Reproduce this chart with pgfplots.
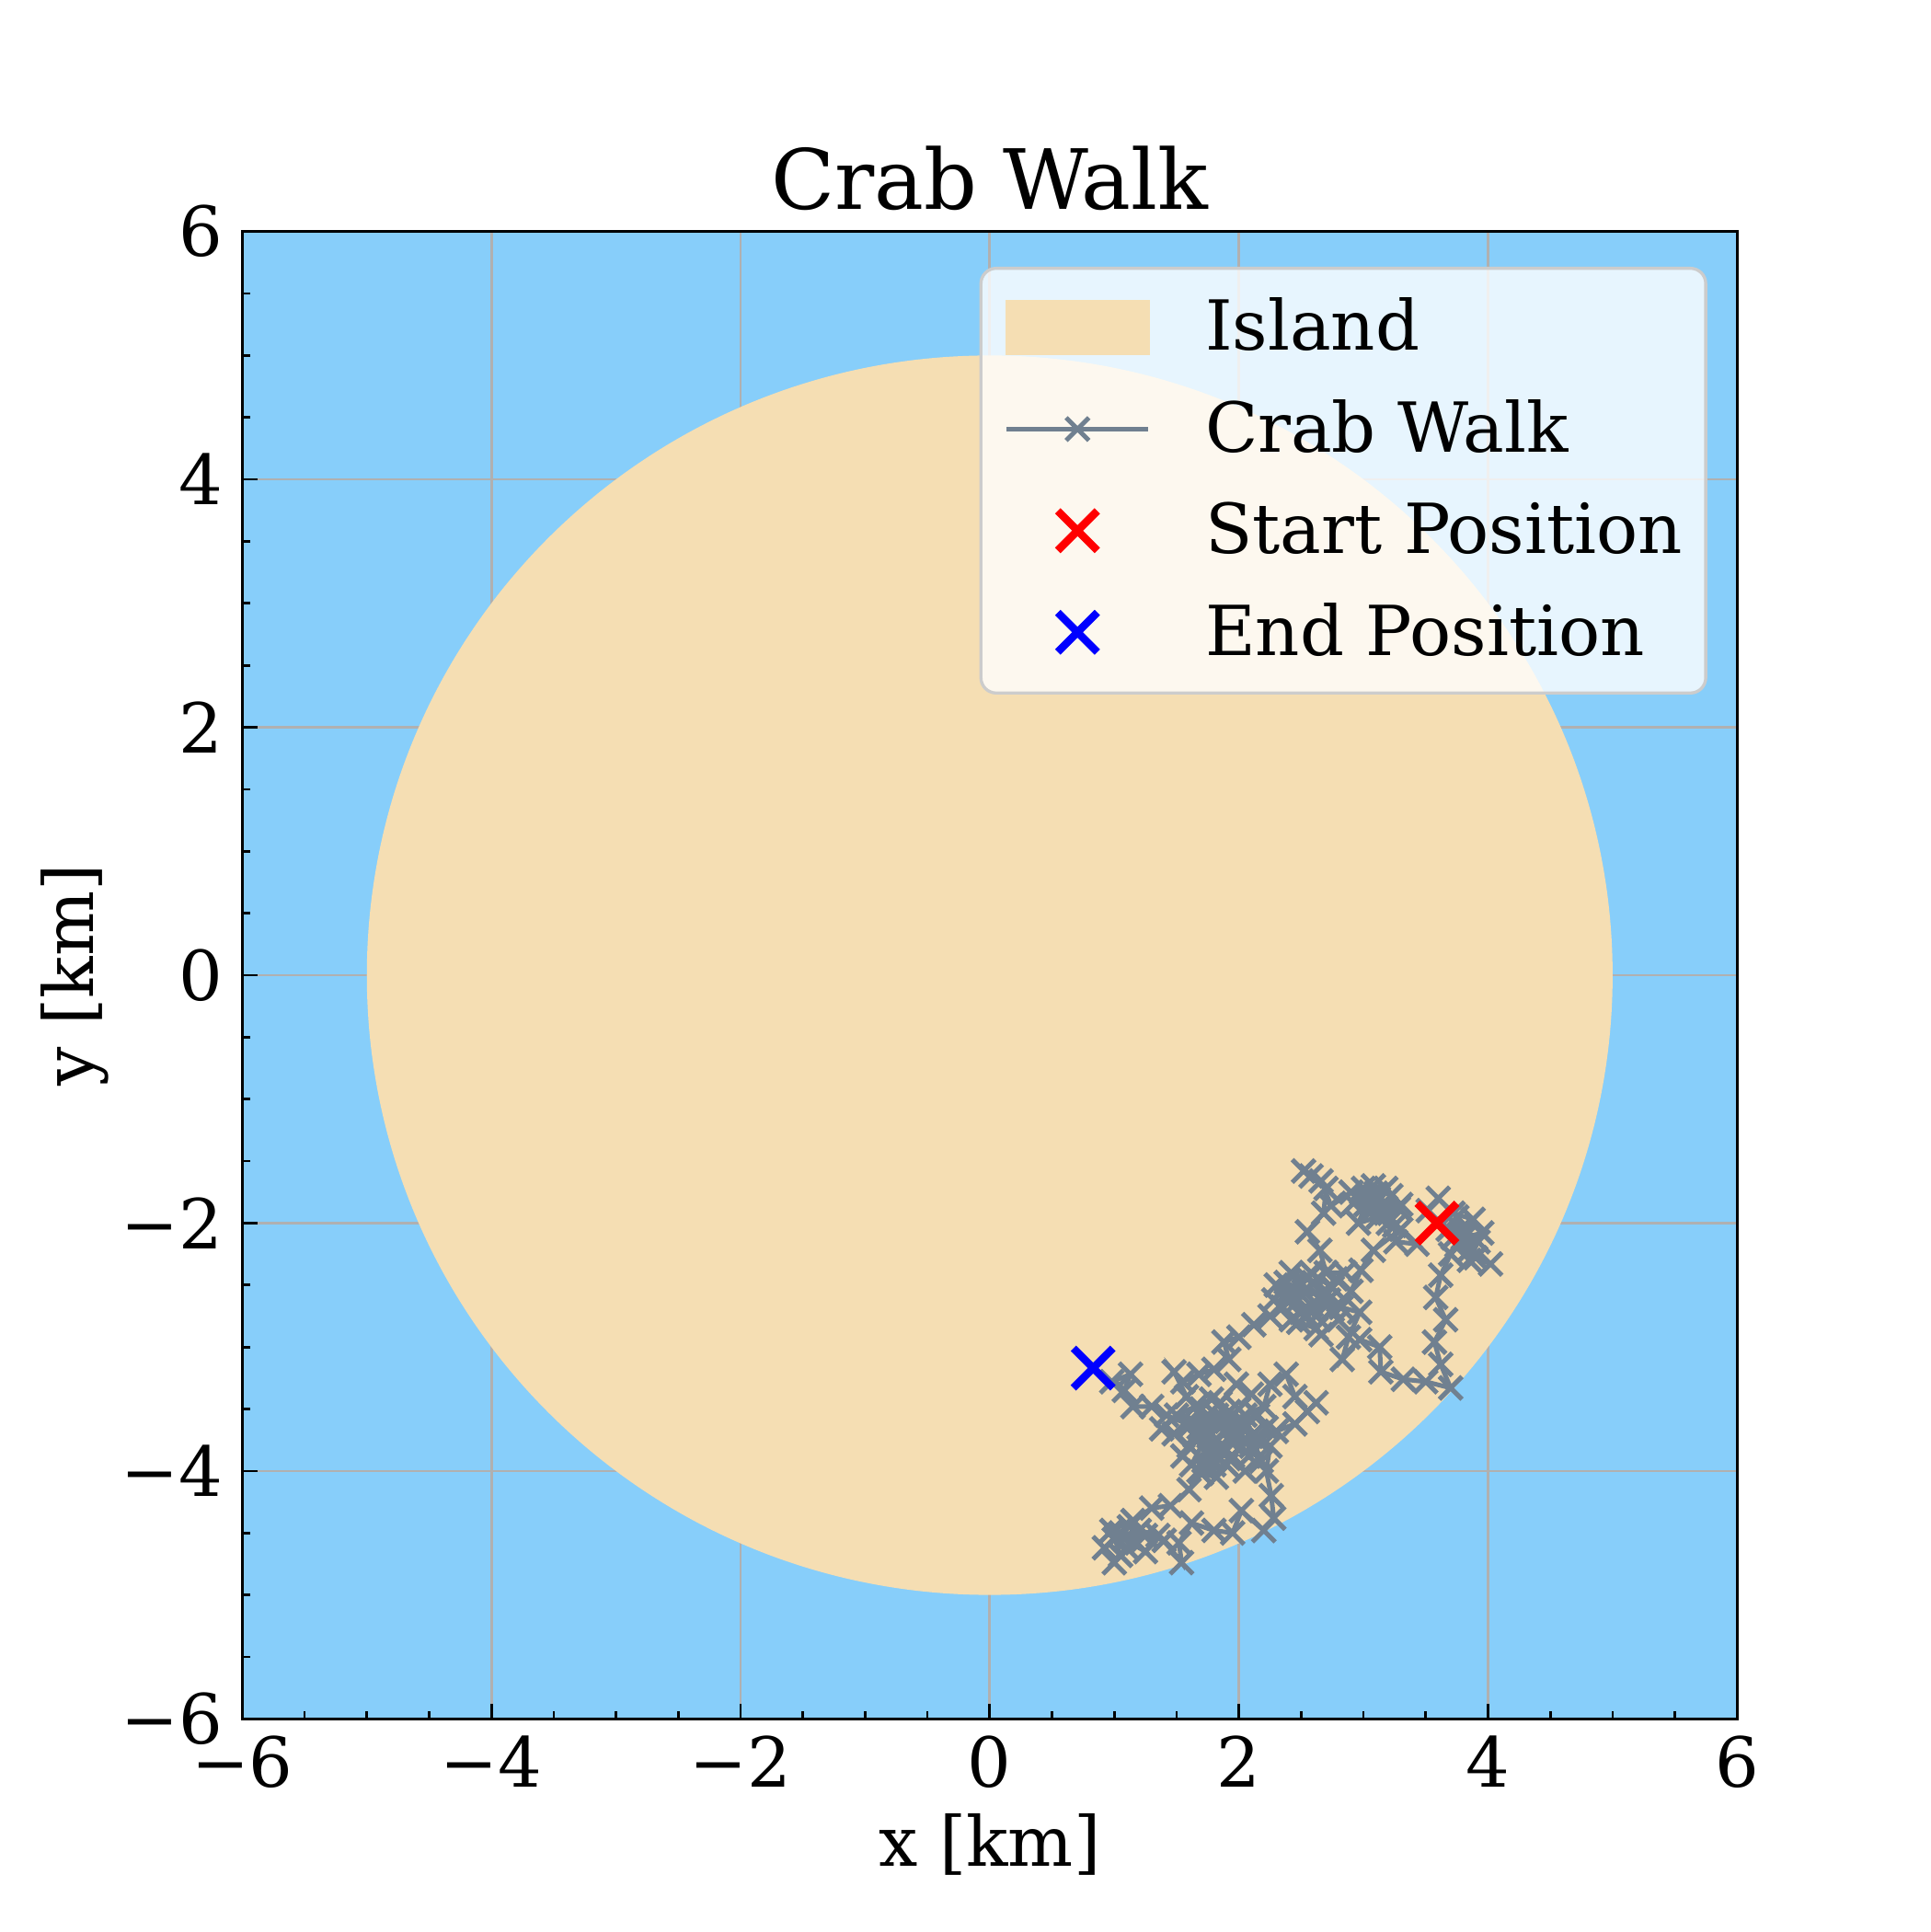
\documentclass[border=0pt]{standalone}
\usepackage{fontspec}
\setmainfont{DejaVu Serif}
\usepackage{pgfplots}
\pgfplotsset{compat=1.18}
\definecolor{skyb}{HTML}{87CEFA}
\definecolor{wheatc}{HTML}{F5DEB3}
\definecolor{slate}{HTML}{708090}
\definecolor{gridc}{HTML}{B0B0B0}
\definecolor{legedge}{HTML}{CCCCCC}
\pgfdeclarelayer{island}
\pgfplotsset{
  layers/islandlayers/.define layer set={axis background, island, axis grid, axis ticks, pre main, main, axis lines, axis tick labels, axis descriptions, axis foreground}{},
  walk legend/.style={legend image code/.code={\draw[##1] (0pt,0.2pt) -- (37pt,0.2pt); \draw[##1] plot[only marks] coordinates {(18.5pt,0.2pt)};}},
  mark legend/.style={legend image code/.code={\path (0pt,0pt) (37pt,0pt); \draw[##1] plot coordinates {(18.5pt,0.2pt)};}},
  island legend/.style={legend image code/.code={\fill[wheatc, fill opacity=1, sharp corners] (0pt,-6.7pt) rectangle (37pt,7.1pt);}},
}
\begin{document}
\begin{tikzpicture}
\begin{axis}[
  name=ax,
  set layers=islandlayers,
  scale only axis,
  width=390pt, height=388pt,
  xmin=-6, xmax=6, ymin=-6, ymax=6,
  axis background/.style={fill=skyb},
  xtick={-6,-4,-2,0,2,4,6},
  ytick={-6,-4,-2,0,2,4,6},
  xticklabels={−6,−4,−2,0,2,4,6},
  yticklabels={−6,−4,−2,0,2,4,6},
  minor tick num=3,
  tick align=inside,
  tick pos=left,
  major tick length=4pt,
  minor tick length=2pt,
  every tick/.style={black, line width=0.65pt},
  axis line style={black, line width=0.7pt},
  grid=major,
  major grid style={gridc, line width=0.65pt},
  tick label style={font=\fontsize{18}{22}\selectfont},
  xticklabel style={anchor=north, inner sep=0pt, yshift=-4.3pt},
  yticklabel style={anchor=east, inner sep=0pt, xshift=-4.9pt},
  xlabel={x [km]},
  ylabel={y [km]},
  every axis x label/.style={at={(rel axis cs:0.5,0)}, anchor=base, yshift=-38.4pt, inner sep=0pt, font=\fontsize{18}{22}\selectfont},
  every axis y label/.style={at={(rel axis cs:0,0.5)}, xshift=-38.8pt, rotate=90, anchor=base, inner sep=0pt, font=\fontsize{18}{22}\selectfont},
  title={Crab Walk},
  every axis title/.style={at={(rel axis cs:0.5,1)}, anchor=base, yshift=5.9pt, inner sep=0pt, font=\fontsize{21.7}{26}\selectfont},
  legend cell align=left,
  legend style={at={(rel axis cs:0.980,0.9763)}, anchor=north east,
    fill=white, fill opacity=0.8, draw opacity=1, text opacity=1,
    draw=legedge, line width=0.8pt, rounded corners=4pt,
    inner xsep=6.1pt, inner ysep=7.4pt, row sep=10pt, column sep=14.2pt,
    font=\fontsize{18}{22}\selectfont,
    nodes={inner sep=0pt, text height=14pt, text depth=2.5pt}},
]
\fill[wheatc, on layer=island] (axis cs:0,0) circle [radius=5];
\addlegendimage{island legend}
\addlegendentry{Island}
\addplot[slate, line width=1.2pt, mark=x, mark size=4.2pt, mark options={solid, line width=1.2pt}, walk legend]
coordinates {
(3.59,-2.00) (3.72,-1.92) (3.88,-1.97) (3.80,-2.12) (3.95,-2.08) (3.85,-2.22) (4.02,-2.33) (3.90,-2.28)
(3.75,-2.18) (3.68,-2.05) (3.78,-2.05) (3.92,-2.15) (3.85,-2.30) (3.72,-2.12)
(3.52,-1.90) (3.60,-1.80) (3.75,-1.95) (3.82,-2.10) (3.70,-2.25) (3.62,-2.42)
(3.58,-2.60) (3.66,-2.78) (3.57,-2.96) (3.62,-3.14) (3.70,-3.33) (3.50,-3.28) (3.32,-3.26) (3.14,-3.20)
(3.13,-3.00) (2.97,-2.94) (2.83,-3.10) (2.88,-2.92) (2.97,-2.72) (2.82,-2.68) (2.66,-2.62) (2.50,-2.72)
(2.40,-2.55) (2.55,-2.45) (2.70,-2.55) (2.62,-2.75) (2.45,-2.65) (2.30,-2.50) (2.42,-2.40) (2.60,-2.48)
(2.75,-2.70) (2.62,-2.85) (2.48,-2.80) (2.35,-2.68) (2.52,-2.55) (2.38,-2.48) (2.28,-2.62) (2.42,-2.78)
(2.58,-2.66) (2.72,-2.62) (2.80,-2.78) (2.66,-2.90) (2.55,-2.75) (2.44,-2.58) (2.58,-2.40) (2.75,-2.52)
(2.85,-2.40) (2.70,-2.40) (2.65,-2.22) (2.55,-2.07)
(2.68,-1.92) (2.70,-1.72) (2.58,-1.62) (2.52,-1.58) (2.66,-1.66) (2.74,-1.86) (2.90,-1.75) (3.08,-1.70)
(3.22,-1.78) (3.18,-1.92) (3.02,-1.85) (2.96,-2.00) (3.12,-1.95) (3.28,-1.88) (3.12,-1.80) (3.00,-1.72)
(3.05,-1.78) (3.18,-1.72) (3.30,-1.85) (3.20,-2.00) (3.05,-1.92) (2.92,-1.84) (3.10,-1.76)
(3.15,-1.86) (3.25,-2.02) (3.26,-2.15) (3.43,-2.17) (3.30,-2.05) (3.08,-2.22) (2.98,-2.38) (2.90,-2.55)
(2.78,-2.45) (2.65,-2.60) (2.50,-2.50) (2.38,-2.62) (2.25,-2.75) (2.12,-2.82) (2.00,-2.92) (1.88,-2.96)
(1.92,-3.10) (1.80,-3.18) (1.68,-3.22) (1.55,-3.28) (1.48,-3.20) (1.58,-3.40) (1.70,-3.50) (1.62,-3.62)
(1.78,-3.70) (1.90,-3.60) (2.05,-3.55) (2.20,-3.48) (2.25,-3.30) (2.38,-3.22) (2.45,-3.40) (2.55,-3.52)
(2.62,-3.45) (2.45,-3.62) (2.30,-3.68) (2.15,-3.75) (2.00,-3.72) (1.85,-3.82) (1.72,-3.92) (1.60,-3.80)
(1.48,-3.70) (1.38,-3.66) (1.50,-3.55) (1.65,-3.48) (1.78,-3.42) (1.92,-3.52) (2.05,-3.62) (2.10,-3.80)
(1.75,-3.55) (1.88,-3.68) (2.02,-3.80) (1.90,-3.95) (1.75,-3.85) (1.62,-3.95) (1.80,-3.60) (2.00,-3.62)
(2.15,-3.55) (2.22,-3.65) (2.08,-3.88) (1.95,-3.70) (1.82,-3.55) (1.68,-3.65) (1.80,-3.78) (1.95,-3.88)
(2.10,-3.72) (2.18,-3.92) (2.05,-4.00) (1.92,-3.90) (1.78,-3.80) (1.65,-3.72) (1.55,-3.88) (1.68,-4.00) (1.80,-3.95)
(1.95,-3.78) (2.12,-3.70) (2.25,-3.80) (2.22,-4.00) (2.26,-4.20) (2.28,-4.38) (2.20,-4.48) (2.02,-4.32)
(1.95,-4.50) (1.80,-4.48) (1.62,-4.42) (1.52,-4.58) (1.54,-4.74) (1.40,-4.56) (1.25,-4.52) (1.12,-4.45)
(1.00,-4.55) (0.92,-4.62) (1.00,-4.74) (1.10,-4.62) (1.20,-4.48) (1.35,-4.52) (1.25,-4.65) (1.08,-4.55)
(1.05,-4.50) (1.18,-4.58) (1.05,-4.68)
(0.98,-4.48) (1.15,-4.40) (1.30,-4.30) (1.45,-4.28) (1.60,-4.15) (1.70,-4.02) (1.82,-4.05) (1.76,-3.88)
(1.70,-3.72) (1.85,-3.62) (2.00,-3.50) (2.10,-3.38) (1.98,-3.30) (1.85,-3.45) (1.72,-3.58) (1.58,-3.62)
(1.42,-3.55) (1.30,-3.48) (1.15,-3.48) (1.08,-3.35) (1.13,-3.22) (0.98,-3.28) (0.83,-3.17)
};
\addlegendentry{Crab Walk}
\addplot[only marks, red, mark=x, mark size=7.3pt, mark options={line width=2pt}, mark legend]
coordinates {(3.59,-2.00)};
\addlegendentry{Start Position}
\addplot[only marks, blue, mark=x, mark size=7.3pt, mark options={line width=2pt}, mark legend]
coordinates {(0.83,-3.17)};
\addlegendentry{End Position}
\end{axis}
\path ([xshift=-63.2pt, yshift=-55.6pt]ax.south west) rectangle ([xshift=50.4pt, yshift=60.4pt]ax.north east);
\end{tikzpicture}
\end{document}
